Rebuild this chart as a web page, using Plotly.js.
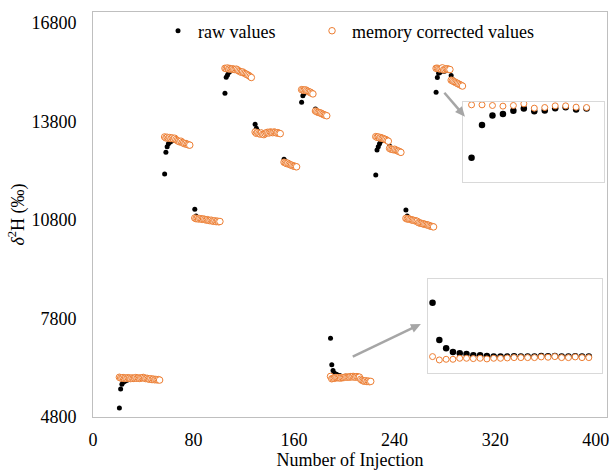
<!DOCTYPE html>
<html><head><meta charset="utf-8">
<script src="https://cdn.plot.ly/plotly-3.0.1.min.js"></script>
<style>html,body{margin:0;padding:0;background:#fff}#chart{width:609px;height:470px}</style>
</head><body><div id="chart"></div>
<script>
// First injection number of each vial group
const groupFirstInjection = [21, 57, 81, 105, 129, 152, 166, 177, 189, 225, 236, 249, 259, 273, 285];

// Raw values (‰) per group
const raw_A = [5074, 5650, 5800, 5860, 5880, 5910, 5920, 5940, 5945, 5940, 5960, 5950, 5962, 5980, 5962, 5975, 5962, 5973, 5984, 5995, 5976, 5962, 5973, 5954, 5945, 5960, 5936, 5951, 5931, 5942, 5927, 5937, 5922];
const raw_B = [12202, 12863, 13030, 13120, 13170, 13190, 13230, 13220, 13250, 13220, 13195, 13180, 13162, 13185, 13147, 13129, 13110, 13121, 13092, 13083, 13060];
const raw_C = [11127, 10920, 10880, 10855, 10862, 10848, 10830, 10838, 10822, 10806, 10815, 10794, 10784, 10798, 10773, 10762, 10777, 10752, 10766, 10746, 10756];
const raw_D = [14660, 15148, 15217, 15290, 15330, 15345, 15365, 15360, 15355, 15372, 15352, 15326, 15308, 15290, 15301, 15272, 15253, 15234, 15215, 15195, 15166, 15136];
const raw_E = [13716, 13594, 13520, 13475, 13450, 13470, 13425, 13412, 13440, 13468, 13476, 13455, 13484, 13473, 13462, 13482, 13472, 13452, 13461, 13441, 13431];
const raw_F = [12650, 12600, 12560, 12550, 12515, 12490, 12478, 12456, 12445, 12434, 12423];
const raw_G = [14386, 14587, 14650, 14700, 14705, 14695, 14685, 14678, 14652, 14634];
const raw_H = [14182, 14130, 14095, 14080, 14066, 14044, 14023, 14002, 13991, 13976];
const raw_I = [7199, 6395, 6215, 6136, 6108, 6093, 6065, 6065, 6050, 6036, 6036, 6036, 6043, 6036, 6036, 6036, 6050, 6043, 6050, 6036, 6036, 6043, 6036, 6036, 5965, 5930, 5905, 5893, 5906, 5882, 5896, 5876, 5886];
const raw_J = [12171, 12933, 13033, 13120, 13200, 13230, 13240, 13235, 13232, 13207, 13190];
const raw_K = [13050, 12990, 12965, 12948, 12960, 12934, 12913, 12902, 12882, 12861];
const raw_L = [11105, 10922, 10870, 10835, 10818, 10805, 10793, 10782, 10771, 10761];
const raw_M = [10730, 10715, 10703, 10692, 10681, 10671, 10661, 10651, 10641, 10621, 10611, 10601, 10591];
const raw_N = [14690, 15143, 15272, 15295, 15337, 15369, 15332, 15341, 15374, 15388, 15355, 15369];
const raw_O = [15200, 15090, 15045, 15015, 14990, 14966, 14945, 14923, 14902, 14882];

// Memory corrected values (‰) per group
const corr_A = [6010, 5990, 5985, 6000, 5975, 5990, 5980, 5995, 5985, 5970, 5990, 5975, 5985, 6000, 5980, 5990, 5975, 5985, 5995, 6005, 5985, 5970, 5980, 5960, 5950, 5965, 5940, 5955, 5935, 5945, 5930, 5940, 5925];
const corr_B = [13330, 13300, 13320, 13290, 13310, 13280, 13300, 13270, 13290, 13250, 13220, 13200, 13180, 13200, 13160, 13140, 13120, 13130, 13100, 13090, 13080];
const corr_C = [10860, 10840, 10850, 10830, 10845, 10835, 10820, 10830, 10815, 10800, 10810, 10790, 10780, 10795, 10770, 10760, 10775, 10750, 10765, 10745, 10755];
const corr_D = [15420, 15410, 15430, 15400, 15415, 15395, 15405, 15390, 15380, 15395, 15370, 15340, 15320, 15300, 15310, 15280, 15260, 15240, 15220, 15200, 15170, 15140];
const corr_E = [13480, 13440, 13460, 13430, 13420, 13450, 13410, 13400, 13430, 13460, 13470, 13450, 13480, 13470, 13460, 13480, 13470, 13450, 13460, 13440, 13430];
const corr_F = [12560, 12540, 12520, 12530, 12500, 12480, 12470, 12450, 12440, 12430, 12420];
const corr_G = [14770, 14760, 14750, 14765, 14740, 14720, 14700, 14690, 14660, 14640];
const corr_H = [14120, 14100, 14080, 14070, 14060, 14040, 14020, 14000, 13990, 13975];
const corr_I = [6036, 5964, 5978, 5978, 6000, 6000, 5993, 6000, 5986, 6000, 6000, 6007, 6014, 6014, 6014, 6014, 6029, 6022, 6036, 6014, 6014, 6029, 6014, 6014, 5950, 5920, 5900, 5890, 5905, 5880, 5895, 5875, 5885];
const corr_J = [13340, 13320, 13330, 13300, 13310, 13290, 13280, 13260, 13250, 13220, 13200];
const corr_K = [12980, 12960, 12950, 12940, 12955, 12930, 12910, 12900, 12880, 12860];
const corr_L = [10850, 10830, 10840, 10820, 10810, 10800, 10790, 10780, 10770, 10760];
const corr_M = [10720, 10710, 10700, 10690, 10680, 10670, 10660, 10650, 10640, 10620, 10610, 10600, 10590];
const corr_N = [15420, 15420, 15411, 15402, 15411, 15434, 15374, 15383, 15406, 15406, 15388, 15383];
const corr_O = [15060, 15040, 15020, 15000, 14980, 14960, 14940, 14920, 14900, 14880];

const rawGroups = [raw_A, raw_B, raw_C, raw_D, raw_E, raw_F, raw_G, raw_H, raw_I, raw_J, raw_K, raw_L, raw_M, raw_N, raw_O];
const corrGroups = [corr_A, corr_B, corr_C, corr_D, corr_E, corr_F, corr_G, corr_H, corr_I, corr_J, corr_K, corr_L, corr_M, corr_N, corr_O];

// Insets: zoom of group N (upper) and first 24 injections of group I (lower)
const insetUpperGroup = 13, insetUpperCount = 12;
const insetLowerGroup = 8, insetLowerCount = 24;

// Arrows (tail -> tip) in data units of the main axes
const arrowTails = [[279.6, 14677], [206.7, 6637]];
const arrowTips  = [[296.0, 13946], [260.9, 7632]];

function groupSeries(g, count) {
  const xs = [], r = [], c = [];
  const n = Math.min(count, rawGroups[g].length);
  for (let i = 0; i < n; i++) { xs.push(groupFirstInjection[g] + i); r.push(rawGroups[g][i]); c.push(corrGroups[g][i]); }
  return {xs, r, c};
}
const injection = [], rawValues = [], correctedValues = [];
groupFirstInjection.forEach((s, g) => {
  const d = groupSeries(g, Infinity);
  injection.push(...d.xs); rawValues.push(...d.r); correctedValues.push(...d.c);
});
const up = groupSeries(insetUpperGroup, insetUpperCount);
const lo = groupSeries(insetLowerGroup, insetLowerCount);

const W = 609, H = 470, M = {l: 93, r: 2, t: 12, b: 53};
const XR = [0, 409], YR = [4800, 17135];
const PW = W - M.l - M.r, PH = H - M.t - M.b;

// arrow shapes (line + filled head) built in pixel space, expressed in paper units
function toPx(p) { return [M.l + (p[0] - XR[0]) / (XR[1] - XR[0]) * PW, M.t + (YR[1] - p[1]) / (YR[1] - YR[0]) * PH]; }
function toPaper(px) { return [(px[0] - M.l) / PW, (M.t + PH - px[1]) / PH]; }
const ARROW = '#a6a6a6';
const shapes = [];
arrowTails.forEach((tl, i) => {
  const S = toPx(tl), T = toPx(arrowTips[i]);
  const dx = T[0] - S[0], dy = T[1] - S[1], L = Math.hypot(dx, dy);
  const u = [dx / L, dy / L], n = [-u[1], u[0]];
  const headLen = 10, headHalf = 4.5;
  const B = [T[0] - u[0] * headLen, T[1] - u[1] * headLen];
  const s0 = toPaper(S), b0 = toPaper([B[0] + u[0] * 1, B[1] + u[1] * 1]);
  shapes.push({type: 'line', xref: 'paper', yref: 'paper', x0: s0[0], y0: s0[1], x1: b0[0], y1: b0[1], line: {color: ARROW, width: 2.5}});
  const p1 = toPaper(T), p2 = toPaper([B[0] + n[0] * headHalf, B[1] + n[1] * headHalf]), p3 = toPaper([B[0] - n[0] * headHalf, B[1] - n[1] * headHalf]);
  shapes.push({type: 'path', xref: 'paper', yref: 'paper', path: `M ${p1[0]},${p1[1]} L ${p2[0]},${p2[1]} L ${p3[0]},${p3[1]} Z`, fillcolor: ARROW, line: {width: 0}});
});

const ORANGE = '#ED7D31';
const FONT = {family: '"Liberation Serif", "Times New Roman", serif', size: 18, color: '#000'};

const rawMarkerMain = {color: '#000', size: 5};
const corrMarkerMain = {symbol: 'circle', color: '#fff', size: 6.5, line: {color: ORANGE, width: 1}};
const rawMarkerInset = {color: '#000', size: 6.5};
const corrMarkerInset = {symbol: 'circle', color: '#fff', size: 6, line: {color: ORANGE, width: 1}};

const traces = [
  {x: injection, y: rawValues, type: 'scatter', mode: 'markers', name: 'raw values', legendwidth: 109, marker: rawMarkerMain, xaxis: 'x', yaxis: 'y', cliponaxis: false},
  {x: injection, y: correctedValues, type: 'scatter', mode: 'markers', name: 'memory corrected values', legendwidth: 200, marker: corrMarkerMain, xaxis: 'x', yaxis: 'y', cliponaxis: false},
  {x: up.xs, y: up.r, type: 'scatter', mode: 'markers', showlegend: false, marker: rawMarkerInset, xaxis: 'x2', yaxis: 'y2'},
  {x: up.xs, y: up.c, type: 'scatter', mode: 'markers', showlegend: false, marker: corrMarkerInset, xaxis: 'x2', yaxis: 'y2'},
  {x: lo.xs, y: lo.r, type: 'scatter', mode: 'markers', showlegend: false, marker: rawMarkerInset, xaxis: 'x3', yaxis: 'y3'},
  {x: lo.xs, y: lo.c, type: 'scatter', mode: 'markers', showlegend: false, marker: corrMarkerInset, xaxis: 'x3', yaxis: 'y3'}
];

const insetAxis = {showticklabels: false, showgrid: false, zeroline: false, ticks: '', showline: true, mirror: true, linecolor: '#d9d9d9', linewidth: 1, fixedrange: true};

const layout = {
  width: W, height: H,
  margin: M,
  paper_bgcolor: '#fff', plot_bgcolor: '#fff',
  font: FONT,
  showlegend: true,
  legend: {orientation: 'h', x: 0.1265, xanchor: 'left', y: 0.953, yanchor: 'middle', font: FONT, bgcolor: 'rgba(0,0,0,0)', itemclick: false},
  xaxis: {range: XR, tick0: 0, dtick: 80, showgrid: false, zeroline: false, ticks: '', showline: true, mirror: true, linecolor: '#bfbfbf', linewidth: 1, tickfont: FONT, ticklabelstandoff: 6, ticklabeloverflow: 'allow',
          title: {text: 'Number of Injection', font: FONT, standoff: 4}},
  yaxis: {range: YR, tick0: 4800, dtick: 3000, tickformat: 'd', showgrid: false, zeroline: false, ticks: '', showline: true, mirror: true, linecolor: '#bfbfbf', linewidth: 1, tickfont: FONT, ticklabelstandoff: 12,
          title: {text: '<i>δ</i><sup>2</sup>H (‰)', font: FONT, standoff: 2}},
  xaxis2: Object.assign({domain: [0.719, 0.994], anchor: 'y2', range: [272.14, 285.66]}, insetAxis),
  yaxis2: Object.assign({domain: [0.581, 0.779], anchor: 'x2', range: [14358, 15466]}, insetAxis),
  xaxis3: Object.assign({domain: [0.652, 0.990], anchor: 'y3', range: [188.35, 213.92]}, insetAxis),
  yaxis3: Object.assign({domain: [0.108, 0.340], anchor: 'x3', range: [5677, 7702]}, insetAxis),
  shapes: shapes
};

Plotly.newPlot('chart', traces, layout, {staticPlot: true, displayModeBar: false});
</script>
</body></html>
